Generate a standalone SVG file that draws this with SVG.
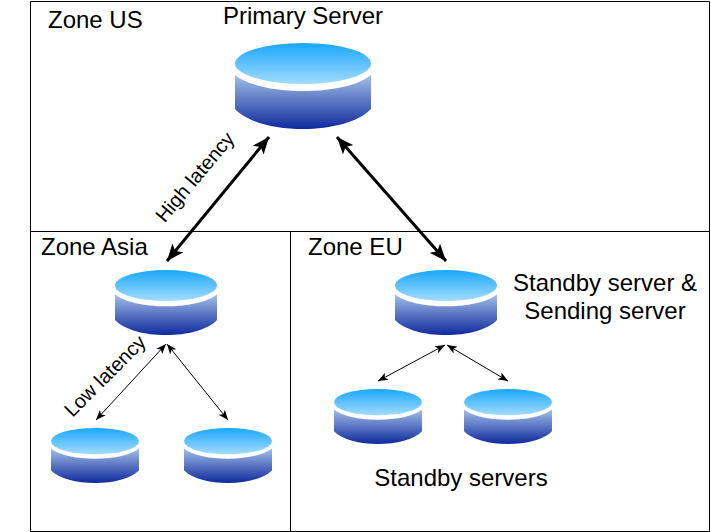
<svg xmlns="http://www.w3.org/2000/svg" xmlns:xlink="http://www.w3.org/1999/xlink" width="711" height="532" viewBox="0 0 711 532">
<style>
text{font-family:"Liberation Sans",Arial,sans-serif;font-size:24px;fill:#000}
.rot{font-size:20px}
.frame{fill:none;stroke:#000;stroke-width:1}
.thick{stroke:#000;stroke-width:3;fill:none;marker-start:url(#big);marker-end:url(#big)}
.thin{stroke:#000;stroke-width:1;fill:none;marker-start:url(#small);marker-end:url(#small)}
</style>
<defs>
<linearGradient id="topG" x1="0" y1="0" x2="0" y2="1"><stop offset="0" stop-color="#1aa7fb"/><stop offset="1" stop-color="#a3dcfd"/></linearGradient>
<linearGradient id="sideG" x1="0" y1="0" x2="0" y2="1"><stop offset="0" stop-color="#a3bfe8"/><stop offset="1" stop-color="#0f2a9c"/></linearGradient>
<marker id="big" markerUnits="userSpaceOnUse" viewBox="0 0 17 14" refX="17" refY="7" markerWidth="17" markerHeight="14" orient="auto-start-reverse"><path d="M0 0L17 7L0 14L4 7Z" fill="#000"/></marker>
<marker id="small" markerUnits="userSpaceOnUse" viewBox="0 0 10 8" refX="10" refY="4" markerWidth="10" markerHeight="8" orient="auto-start-reverse"><path d="M0 0L10 4L0 8L2.500 4Z" fill="#000"/></marker>
<symbol id="cyl" viewBox="0 0 136 86" preserveAspectRatio="none">
<path d="M0 32C12 42 38 48 68 48S124 42 136 32V66C124 79 96 86 68 86S12 79 0 66Z" fill="url(#sideG)"/>
<ellipse cx="68" cy="20.500" rx="68" ry="20.500" fill="url(#topG)"/>
</symbol>
</defs>
<g id="zones">
<path class="frame" d="M30.500 1.500H709.500V531.500H30.500Z"/>
<path class="frame" d="M30.500 231.500H709.500M290.500 231.500V531.500"/>
</g>
<g id="connectors">
<line class="thick" x1="269" y1="137" x2="167" y2="261"/>
<line class="thick" x1="337" y1="137" x2="446" y2="261"/>
<line class="thin" x1="166" y1="344" x2="96" y2="420"/>
<line class="thin" x1="167" y1="344" x2="228" y2="420"/>
<line class="thin" x1="445" y1="345" x2="378" y2="381"/>
<line class="thin" x1="447" y1="345" x2="508" y2="381"/>
</g>
<g id="primary"><use xlink:href="#cyl" href="#cyl" x="235" y="43" width="136" height="86"/></g>
<g id="asia-main"><use xlink:href="#cyl" href="#cyl" x="115" y="270" width="102" height="65"/></g>
<g id="eu-main"><use xlink:href="#cyl" href="#cyl" x="395" y="270" width="102" height="65"/></g>
<g id="asia-a"><use xlink:href="#cyl" href="#cyl" x="51" y="428" width="88" height="55"/></g>
<g id="asia-b"><use xlink:href="#cyl" href="#cyl" x="184" y="428" width="88" height="55"/></g>
<g id="eu-a"><use xlink:href="#cyl" href="#cyl" x="334" y="389" width="88" height="55"/></g>
<g id="eu-b"><use xlink:href="#cyl" href="#cyl" x="464" y="389" width="88" height="55"/></g>
<g id="labels">
<text x="48" y="28">Zone US</text>
<text x="303" y="24" text-anchor="middle">Primary Server</text>
<text x="41" y="255">Zone Asia</text>
<text x="308" y="255">Zone EU</text>
<text x="605" y="291" text-anchor="middle">Standby server &amp;</text>
<text x="605" y="319" text-anchor="middle">Sending server</text>
<text x="461" y="486" text-anchor="middle">Standby servers</text>
<text class="rot" transform="translate(196 178) rotate(-50)" text-anchor="middle" dominant-baseline="middle">High latency</text>
<text class="rot" transform="translate(106 377) rotate(-45)" text-anchor="middle" dominant-baseline="middle">Low latency</text>
</g>
</svg>
